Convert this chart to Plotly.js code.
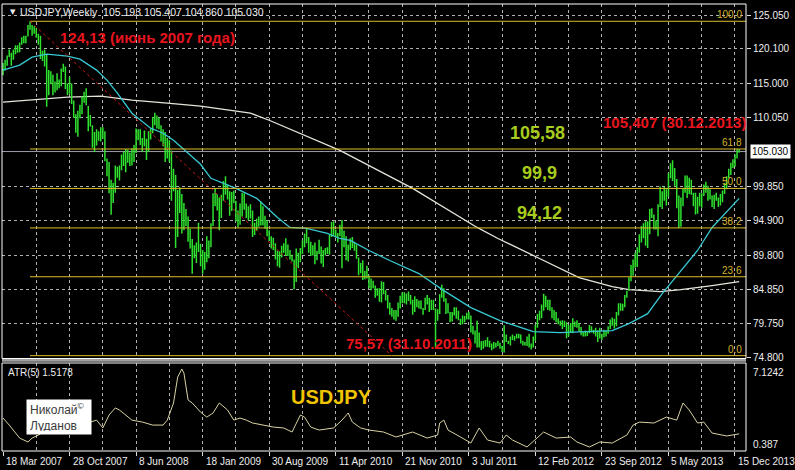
<!DOCTYPE html>
<html><head><meta charset="utf-8">
<script src="https://cdn.plot.ly/plotly-3.0.1.min.js"></script>
<style>html,body{margin:0;padding:0;background:#000;}#chart{width:795px;height:470px;}</style>
</head><body><div id="chart"></div>
<script>
// ---- weekly highs / lows (USDJPY, weekly bars from 18 Mar 2007) ----
const hi2007=[118.0,118.5,119.1,120.0,119.5,120.0,120.6,120.6,121.0,121.8,122.0,122.0,123.6,124.13,123.6,123.4,123.1,122.3,122.0,119.8,120.0,119.2,117.0,116.8,116.3,115.3,116.5,115.6,117.2,117.9,117.5,115.0,116.0,115.0,112.5,110.5,111.0,111.9,113.1,113.8,114.3,111.7];
const lo2007=[116.2,116.9,117.6,118.9,117.6,118.5,119.3,119.5,119.6,120.7,120.9,120.9,121.9,122.9,122.0,122.3,121.7,120.7,118.6,118.3,117.5,111.6,113.3,114.9,113.3,113.7,114.0,114.3,114.6,116.7,114.2,113.3,113.5,112.0,110.0,107.8,107.2,109.9,110.5,112.2,111.8,108.0];
const hi2008=[110.4,108.9,107.9,108.3,108.0,108.6,108.6,108.0,104.0,103.5,100.9,100.4,103.0,102.8,103.0,104.6,105.0,105.4,105.3,104.9,105.5,106.0,108.4,108.3,108.3,107.0,108.1,106.9,108.0,108.4,110.1,110.7,110.3,110.0,108.9,108.3,107.9,107.0,106.7,105.2,102.5,101.6,99.4,99.8,98.8,97.5,96.6,95.5,93.7,92.2,91.3,91.7];
const lo2008=[108.7,105.6,104.97,105.9,106.6,106.5,106.9,103.6,101.4,98.9,95.77,97.5,99.0,101.2,100.8,102.3,102.9,102.0,103.4,102.9,103.0,103.5,104.8,106.7,106.0,105.0,105.8,103.8,105.0,106.8,107.7,108.9,108.4,108.3,106.5,105.8,103.5,104.0,103.5,97.8,99.2,90.9,92.5,96.0,93.0,93.5,94.1,91.8,90.8,87.1,89.4,88.7];
const hi2009=[94.6,91.5,90.6,90.3,92.6,92.0,94.5,98.9,99.7,98.8,98.3,98.7,100.7,101.4,100.2,99.2,99.1,99.3,97.8,96.4,97.4,99.0,98.9,97.4,97.0,97.3,96.4,94.6,95.2,95.5,97.7,97.0,95.6,95.0,93.5,92.6,92.4,91.6,90.5,90.4,91.2,91.6,92.3,91.4,90.6,89.9,89.2,90.8,90.2,90.9,92.0,93.0];
const lo2009=[90.3,88.2,87.1,87.7,88.8,89.4,91.0,94.1,97.0,96.4,93.5,95.3,97.8,98.7,98.0,95.6,96.3,97.5,94.8,93.9,94.3,95.5,96.5,95.3,94.9,95.2,92.5,92.8,93.4,94.0,94.2,94.2,93.7,92.6,91.9,90.8,90.6,89.2,88.2,88.0,89.5,90.2,89.7,89.7,89.2,88.9,84.82,85.9,87.9,88.8,90.0,91.0];
const hi2010=[93.8,92.5,91.8,91.3,91.7,90.5,92.1,91.1,90.6,90.9,91.0,92.8,94.7,94.8,93.6,93.1,94.3,94.99,93.4,92.6,91.4,92.3,92.5,91.8,91.4,89.5,88.7,89.1,87.5,88.3,86.9,86.4,86.1,85.4,85.0,85.0,86.0,85.9,84.7,84.0,82.9,82.1,81.8,81.8,82.9,83.9,84.4,84.4,84.2,84.5,84.0,83.3];
const lo2010=[91.6,90.2,89.7,89.8,88.5,89.1,90.0,88.6,88.1,89.8,90.0,89.9,92.5,92.7,92.4,91.7,92.6,87.9,91.0,89.1,88.9,90.6,90.9,90.5,89.3,86.9,87.2,86.2,86.3,86.4,85.0,84.7,85.0,83.6,83.9,83.0,82.9,84.1,83.2,82.0,81.1,80.8,80.4,80.2,80.8,82.0,82.8,82.8,82.6,83.1,82.6,81.1];
const hi2011=[83.8,83.4,83.2,83.2,82.1,83.6,84.0,83.6,83.3,83.3,82.0,81.9,84.1,85.5,85.0,83.5,82.8,81.5,81.5,82.2,82.2,81.7,80.5,81.0,80.9,81.4,81.5,81.0,79.5,78.8,80.2,78.5,77.2,77.3,77.4,77.8,77.3,76.9,77.1,77.0,77.3,77.0,76.5,79.55,78.2,77.3,77.9,78.2,78.0,78.3,78.3,78.2];
const lo2011=[81.5,82.2,82.0,81.9,81.1,81.8,82.6,81.5,81.8,81.8,76.25,80.2,81.2,83.6,83.0,81.2,81.3,80.0,80.1,81.0,80.5,80.3,79.6,79.7,80.0,80.4,80.4,78.5,78.2,76.9,76.3,76.3,75.94,76.1,76.4,76.4,76.3,75.9,76.1,76.3,76.5,76.1,75.65,75.57,77.1,76.8,76.6,77.4,77.3,77.6,77.6,76.9];
const hi2012=[77.3,77.1,77.9,78.3,76.9,77.9,79.6,81.2,81.7,82.6,84.18,83.9,83.3,83.3,82.2,81.8,81.5,80.6,80.2,80.3,80.2,80.0,79.6,79.9,80.6,80.1,80.3,79.9,79.3,78.6,78.8,78.7,79.6,79.4,78.9,79.2,78.8,79.2,78.3,78.9,78.7,79.4,80.4,80.7,80.5,81.5,82.8,82.8,82.7,84.0,84.6,86.6,88.4];
const lo2012=[76.6,76.6,76.5,76.3,76.0,76.3,77.3,79.2,80.3,80.6,81.7,82.2,81.8,81.7,80.6,80.3,80.0,79.7,79.5,79.0,79.3,77.65,77.9,78.5,78.4,79.3,79.2,78.6,78.1,77.9,77.9,78.0,78.4,78.5,78.3,77.9,77.1,77.6,77.4,77.8,77.9,78.3,79.0,79.5,79.1,79.4,81.0,81.7,81.7,82.2,83.6,84.6,86.0];
const hi2013=[89.2,90.2,91.0,92.9,94.1,94.5,94.8,94.8,96.6,96.7,95.8,94.9,97.3,99.9,99.2,99.9,99.5,101.9,103.3,103.74,102.6,101.0,98.6,98.3,99.6,101.5,101.5,101.2,100.9,99.0,99.0,98.4,99.0,98.9,100.2,100.6,100.0,99.5,98.6,98.7,99.0,98.3,98.8,99.3,100.4,101.4,102.5,103.4,103.9,104.6,105.4,105.407];
const lo2013=[86.8,88.0,88.1,90.2,91.7,92.3,91.2,90.9,92.9,95.3,93.6,93.6,92.6,96.9,96.6,97.8,97.1,98.4,101.1,100.7,100.0,96.7,93.8,94.0,97.0,99.0,98.2,98.8,98.7,97.0,95.8,95.9,97.0,96.8,98.5,99.0,97.8,98.0,96.9,96.6,97.8,96.9,97.1,97.6,98.8,99.5,101.1,101.6,102.6,102.8,104.0,104.86];

// ---- moving averages ----
const maFastIdx=[0,8,14,21,31,37,45,50,55,62,71,77,82,88,95,100,106,112,122,132,138,146,156,162,167,176,186,200,212,225,239,255,268,284,293,301,310,317,326,334,341,348,354];
const maFastVal=[116.97,117.70,118.88,119.32,119.03,118.58,116.97,115.50,113.59,110.65,108.45,107.71,106.68,105.0,103.16,101.1,100.37,99.63,98.16,95.37,93.90,93.75,93.02,92.28,91.99,90.52,89.05,87.14,84.64,82.15,80.24,78.62,78.47,78.62,78.77,79.80,81.26,84.20,87.58,90.52,93.90,96.11,98.16];
const maSlowIdx=[0,14,31,47,62,79,95,119,128,162,197,228,238,258,277,293,301,316,326,341,354];
const maSlowVal=[112.27,112.56,113.0,113.15,112.56,112.12,111.68,110.65,109.62,105.21,99.63,93.90,92.28,89.35,86.55,85.23,84.79,84.50,84.79,85.38,85.97];

// ---- ATR(5) ----
const atrIdx=[0,3,8,12,14,18,22,26,30,34,38,42,45,48,51,54,56,60,62,67,72,77,79,82,84,86,87,89,91,95,98,101,104,108,111,114,117,120,125,130,135,139,143,145,148,152,159,163,166,168,172,176,183,189,197,204,209,210,212,214,220,225,229,233,239,242,245,252,260,266,273,276,282,287,293,300,303,306,313,319,324,327,330,334,337,341,348,353,354];
const atrVal=[2.89,2.28,1.16,0.82,1.16,1.51,2.94,3.16,2.30,2.08,2.73,2.54,2.71,2.03,3.15,3.76,3.58,2.97,2.71,2.54,2.28,2.28,2.71,4.19,6.43,7.12,6.78,4.45,4.19,3.40,2.97,3.32,4.19,3.58,2.71,2.89,2.71,2.46,2.28,2.11,2.03,1.68,3.15,2.97,2.11,1.85,2.03,2.71,3.32,2.54,2.03,1.85,1.68,1.25,1.68,1.16,1.42,2.46,2.71,1.85,1.25,0.73,2.03,0.99,0.73,1.42,0.99,0.39,1.68,1.16,1.25,0.82,0.39,0.82,0.73,1.42,2.28,2.54,2.46,2.97,2.71,4.19,3.58,2.46,2.54,1.59,1.34,1.51,1.52];

// ---- Fibonacci tool ----
const fibLevels=[124.13,105.40,99.62,93.83,86.67,75.10];
const fibText=['100.0','61.8','50.0','38.2','23.6','0.0'];
const fibStartIdx=13;
const trendIdx=[13,187];
const trendPrice=[124.13,75.10];
const bidPrice=105.03;

// ---- axes labels ----
const dateTickIdx=[0,32,64,96,128,160,192,224,256,288,320,352];
const dateTickText=['18 Mar 2007','28 Oct 2007','8 Jun 2008','18 Jan 2009','30 Aug 2009','11 Apr 2010','21 Nov 2010','3 Jul 2011','12 Feb 2012','23 Sep 2012','5 May 2013','15 Dec 2013'];
const gridMinorIdx=[16,48,80,112,144,176,208,240,272,304,336];
const priceGrid=[125.05,120.1,115.0,110.05,99.85,94.9,89.8,84.85,79.75,74.8];
const priceGridText=['125.050','120.100','115.000','110.050','99.850','94.900','89.800','84.850','79.750','74.800'];
const priceGridHidden=[105.0];
const ohlcLast='105.193 105.407 104.860 105.030';
const atrLast='1.5178', atrMax='7.1242', atrMin='0.387';

const weeklyHigh=[].concat(hi2007,hi2008,hi2009,hi2010,hi2011,hi2012,hi2013);
const weeklyLow=[].concat(lo2007,lo2008,lo2009,lo2010,lo2011,lo2012,lo2013);

// pixel helpers for text placement
const L=2,R=746,T=4,B=451;
const PX=x=>(x-L)/(R-L), PY=y=>(B-y)/(B-T);
const FONT='Liberation Sans, Arial, sans-serif';

const bx=[],by=[];
weeklyHigh.forEach((h,i)=>{bx.push(i,i,null);by.push(weeklyLow[i],h,null);});

const traces=[];
traces.push({type:'scatter',mode:'lines',x:[-5,400],y:[bidPrice,bidPrice],line:{color:'#9898a8',width:1},hoverinfo:'skip'});
traces.push({type:'scatter',mode:'lines',x:maSlowIdx,y:maSlowVal,line:{color:'#e4e4da',width:1.3},hoverinfo:'skip'});
traces.push({type:'scatter',mode:'lines',x:bx,y:by,line:{color:'#2ee22e',width:1.5},hoverinfo:'skip'});
traces.push({type:'scatter',mode:'lines',x:maFastIdx,y:maFastVal,line:{color:'#38c8d2',width:1.3},hoverinfo:'skip'});
fibLevels.forEach(v=>traces.push({type:'scatter',mode:'lines',x:[fibStartIdx,400],y:[v,v],line:{color:'#dcbe28',width:1},hoverinfo:'skip'}));
traces.push({type:'scatter',mode:'lines',x:trendIdx,y:trendPrice,line:{color:'#c81818',width:1,dash:'3px,3px'},hoverinfo:'skip'});
traces.push({type:'scatter',mode:'lines',x:atrIdx,y:atrVal,yaxis:'y2',line:{color:'#d8d2a2',width:1},hoverinfo:'skip'});

const ann=[];
const txt=(x,y,text,o)=>ann.push(Object.assign({xref:'paper',yref:'paper',x:PX(x),y:PY(y),text:text,showarrow:false,xanchor:'left',yanchor:'middle',font:{family:FONT,size:10,color:'#eeeeee'}},o||{}));
txt(8,12,'▼',{font:{family:'DejaVu Sans',size:7,color:'#eeeeee'}});
txt(18,12,'USDJPY,Weekly\u00a0\u00a0'+ohlcLast,{font:{family:FONT,size:10.5,color:'#eeeeee'}});
const RED={family:FONT,size:15,color:'#e8141e'};
txt(58,37,'<b>124,13 (июнь 2007 года)</b>',{font:RED});
txt(601,122,'<b>105,407 (30.12.2013)</b>',{font:RED});
txt(344,343,'<b>75,57 (31.10.2011)</b>',{font:RED});
const GRN={family:FONT,size:18,color:'#a8cc1e'};
txt(508,133,'<b>105,58</b>',{font:GRN});
txt(520,173,'<b>99,9</b>',{font:GRN});
txt(515,213,'<b>94,12</b>',{font:GRN});
txt(289,397,'<b>USDJPY</b>',{font:{family:FONT,size:20,color:'#f0c400'}});
txt(6,372,'ATR(5) '+atrLast);
txt(751,372,atrMax);
txt(751,444,atrMin);
ann.push({xref:'paper',yref:'paper',x:PX(26),y:PY(399),xanchor:'left',yanchor:'top',showarrow:false,align:'left',
  text:'Николай<sup>©</sup><br>Луданов',bgcolor:'#ffffff',borderpad:3,width:58,height:28,
  font:{family:FONT,size:12,color:'#3a3a3a'}});
ann.push({xref:'paper',yref:'y',x:PX(750),y:bidPrice,xanchor:'left',yanchor:'middle',showarrow:false,text:'105.030',
  bgcolor:'#ffffff',borderpad:1,font:{family:FONT,size:10,color:'#000000'}});
fibLevels.forEach((v,i)=>ann.push({xref:'paper',yref:'y',x:PX(744),y:v,xanchor:'right',yanchor:'bottom',showarrow:false,
  text:fibText[i],font:{family:FONT,size:10,color:'#d4b42a'},yshift:-1}));
dateTickIdx.forEach((d,i)=>ann.push({xref:'x',yref:'paper',x:d,y:PY(462),xanchor:'left',yanchor:'middle',showarrow:false,
  text:dateTickText[i],xshift:1,font:{family:FONT,size:10,color:'#eeeeee'}}));

const grid={gridcolor:'#b0b0b0',gridwidth:1,griddash:'3px,3px'};
const layout={
  width:795,height:470,margin:{l:L,r:795-R,t:T,b:470-B},
  paper_bgcolor:'#000',plot_bgcolor:'#000',showlegend:false,
  xaxis:Object.assign({range:[-0.48,357.3],anchor:'y2',tickmode:'array',tickvals:dateTickIdx,showticklabels:false,
    ticks:'outside',ticklen:4,tickcolor:'#dddddd',showgrid:true,zeroline:false,showline:false,
    minor:{tickmode:'array',tickvals:gridMinorIdx,showgrid:true,gridcolor:'#b0b0b0',griddash:'3px,3px',ticks:''}},grid),
  yaxis:Object.assign({domain:[PY(358.5),1],range:[74.683,126.663],side:'right',anchor:'x',tickmode:'array',
    tickvals:priceGrid,ticktext:priceGridText,ticks:'outside',ticklen:4,tickcolor:'#dddddd',
    tickfont:{family:FONT,size:10,color:'#eeeeee'},showgrid:true,zeroline:false,showline:false,
    minor:{tickmode:'array',tickvals:priceGridHidden,showgrid:true,gridcolor:'#b0b0b0',griddash:'3px,3px',ticks:''}},grid),
  yaxis2:{domain:[0,PY(363)],range:[0.0415,7.642],side:'right',anchor:'x',showgrid:false,showticklabels:false,zeroline:false,ticks:''},
  shapes:[
    {type:'rect',xref:'paper',yref:'paper',x0:0,x1:1,y0:PY(358.5),y1:1,line:{color:'#ffffff',width:1}},
    {type:'rect',xref:'paper',yref:'paper',x0:0,x1:1,y0:0,y1:PY(363),line:{color:'#ffffff',width:1}},
    {type:'rect',xref:'paper',yref:'paper',x0:0,x1:1,y0:PY(361.8),y1:PY(359),fillcolor:'#a0a0a0',line:{width:0}}
  ],
  annotations:ann
};
Plotly.newPlot('chart',traces,layout,{staticPlot:true,displayModeBar:false});
</script></body></html>
